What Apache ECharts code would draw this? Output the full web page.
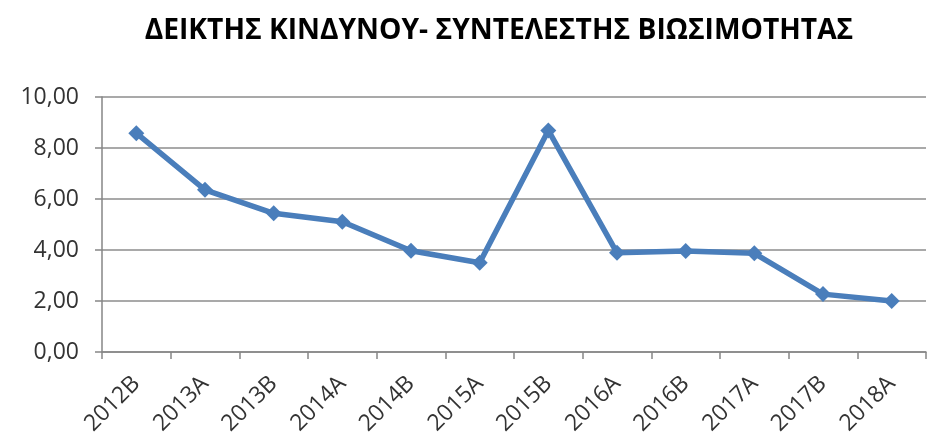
<!DOCTYPE html>
<html>
<head>
<meta charset="utf-8">
<script src="https://cdn.jsdelivr.net/npm/echarts@6/dist/echarts.min.js"></script>
<style>
  html, body { margin: 0; padding: 0; background: #fff; }
  #chart { width: 927px; height: 439px; }
</style>
</head>
<body>
<div id="chart"></div>
<script>
const titleText = 'ΔΕΙΚΤΗΣ ΚΙΝΔΥΝΟΥ- ΣΥΝΤΕΛΕΣΤΗΣ ΒΙΩΣΙΜΟΤΗΤΑΣ'
const periods = ['2012B', '2013A', '2013B', '2014A', '2014B', '2015A', '2015B', '2016A', '2016B', '2017A', '2017B', '2018A']
const riskIndex = [8.58, 6.36, 5.44, 5.11, 3.97, 3.50, 8.69, 3.89, 3.96, 3.87, 2.27, 2.00]

const chart = echarts.init(document.getElementById('chart'))

chart.setOption({
  animation: false,
  backgroundColor: '#fff',
  title: {
    text: titleText,
    left: 494,
    top: 12,
    textAlign: 'center',
    textStyle: {
      fontFamily: 'Open Sans',
      fontWeight: 'bold',
      fontSize: 28.2,
      color: '#000'
    }
  },
  grid: { left: 102, right: 1, top: 97, bottom: 87 },
  xAxis: {
    type: 'category',
    data: periods,
    boundaryGap: true,
    axisLine: { lineStyle: { color: '#868686', width: 1.5 } },
    axisTick: { show: true, length: 7, lineStyle: { color: '#868686', width: 1.5 } },
    axisLabel: {
      rotate: 45,
      fontFamily: 'Open Sans',
      fontSize: 23,
      color: '#333',
      margin: 28
    }
  },
  yAxis: {
    type: 'value',
    min: 0,
    max: 10,
    interval: 2,
    axisLine: { show: true, lineStyle: { color: '#868686', width: 1.5 } },
    axisTick: { show: true, length: 7, lineStyle: { color: '#868686', width: 1.5 } },
    splitLine: { lineStyle: { color: '#8c8c8c', width: 1.5 } },
    axisLabel: {
      fontFamily: 'Open Sans',
      fontSize: 23,
      color: '#333',
      margin: 23,
      formatter: v => v.toFixed(2).replace('.', ',')
    }
  },
  series: [{
    type: 'line',
    data: riskIndex,
    symbol: 'diamond',
    symbolSize: 16,
    lineStyle: { color: '#4a7ebb', width: 5.5 },
    itemStyle: { color: '#4a7ebb' }
  }]
})
</script>
</body>
</html>
